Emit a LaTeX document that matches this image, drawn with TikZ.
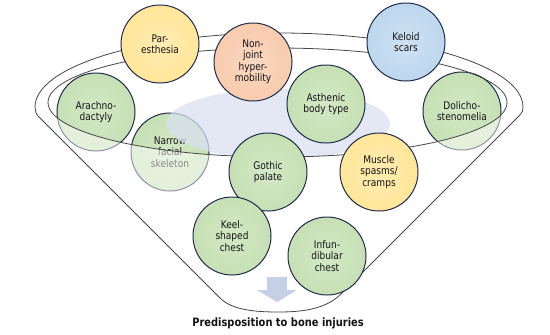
\documentclass[tikz,border=0pt]{standalone}
\usepackage{fontspec}
\setmainfont[FakeStretch=0.86]{DejaVu Sans}
\usepackage{xcolor}
\definecolor{leaf}{RGB}{198,224,180}
\definecolor{sand}{RGB}{255,230,153}
\definecolor{peach}{RGB}{248,203,173}
\definecolor{sky}{RGB}{189,215,238}
\definecolor{navy}{RGB}{30,42,78}
\definecolor{ink}{RGB}{20,20,20}
\definecolor{haze}{RGB}{218,224,240}
\definecolor{arrowblue}{RGB}{197,208,230}
\definecolor{rimgray}{RGB}{70,70,70}
\newcommand{\bubblefont}{\fontsize{10.5}{11.5}\selectfont}

\begin{document}
\begin{tikzpicture}[
    x=1pt, y=-1pt,
    bubble/.style={circle, draw=navy, line width=1pt, minimum size=78pt, inner sep=0pt, align=center, font=\bubblefont, text=ink},
    leafbub/.style={bubble, inner color=leaf!75!white, outer color=leaf},
    sandbub/.style={bubble, inner color=sand!75!white, outer color=sand},
    peachbub/.style={bubble, inner color=peach!75!white, outer color=peach},
    skybub/.style={bubble, inner color=sky!75!white, outer color=sky},
    rimline/.style={draw=rimgray, line width=0.8pt},
    caption/.style={font=\fontsize{11.5}{13}\selectfont\bfseries, text=ink},
]
\useasboundingbox (0,0) rectangle (550,335);

% Bubbles sitting behind the rim
\node[leafbub] (arachno) at (96,112) {Arachno-\\dactyly};
\node[leafbub] (dolicho) at (462,111) {Dolicho-\\stenomelia};
\node[leafbub] (narrow) at (170,152) {Narrow\\facial\\skeleton};

% Shadow disc inside the funnel
\fill[haze, fill opacity=0.75] (278,124) ellipse[x radius=112, y radius=35];

% Funnel: front wall, outline and inner rim
\fill[white, fill opacity=0.5] (35,107) .. controls (36,114) .. (40,118) -- (220,298)
    .. controls (232,310) and (255,312) .. (278,312) .. controls (300,312) and (325,310) .. (341,294)
    -- (519,116) .. controls (523,111) .. (523,107) -- (507,102.5)
    arc[start angle=0, end angle=180, x radius=229.5, y radius=54.5] -- cycle;
\draw[rimline] (35,107) arc[start angle=180, end angle=360, x radius=244, y radius=74]
    .. controls (523,111) .. (519,116) -- (341,294)
    .. controls (325,310) and (300,312) .. (278,312) .. controls (255,312) and (232,310) .. (220,298)
    -- (40,118) .. controls (36,114) .. (35,107) -- cycle;
\draw[rimline] (277.5,102.5) ellipse[x radius=229.5, y radius=54.5];

% Outflow arrow
\fill[arrowblue] (267,277) -- (287,277) -- (287,290) -- (297,290) -- (277,302) -- (257,290) -- (267,290) -- cycle;

% Bubbles in front
\node[sandbub] (paresthesia) at (160,44) {Par-\\esthesia};
\node[peachbub] (nonjoint) at (253,62) {Non-\\joint\\hyper-\\mobility};
\node[skybub] (keloid) at (406,42) {Keloid\\scars};
\node[leafbub] (asthenic) at (326,104) {Asthenic\\body type};
\node[leafbub] (gothic) at (268,172) {Gothic\\palate};
\node[sandbub] (muscle) at (379,172) {Muscle\\spasms/\\cramps};
\node[leafbub] (keel) at (232,236) {Keel-\\shaped\\chest};
\node[leafbub] (infun) at (327,256) {Infun-\\dibular\\chest};

% Result
\node[caption] (result) at (278,323) {Predisposition to bone injuries};

\end{tikzpicture}
\end{document}
